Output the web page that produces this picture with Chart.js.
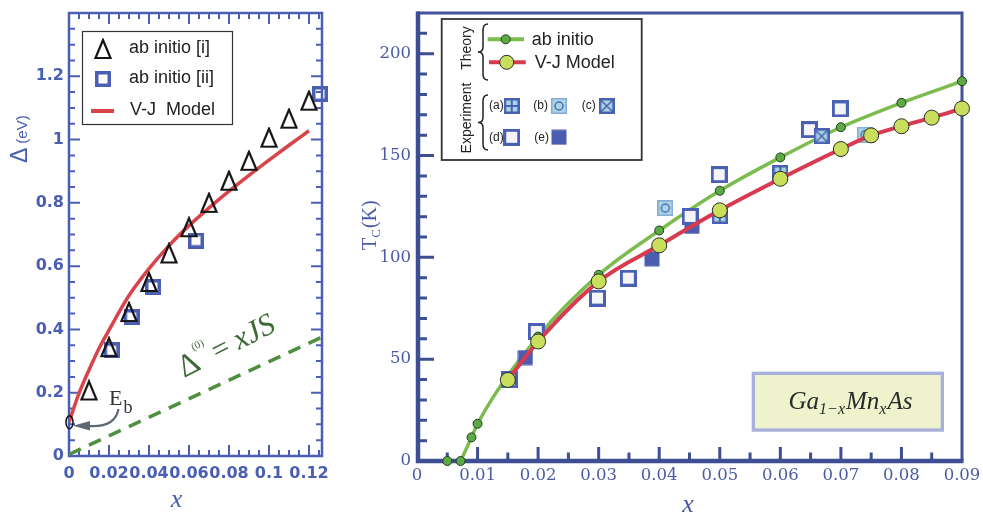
<!DOCTYPE html>
<html>
<head>
<meta charset="utf-8">
<script src="https://cdn.jsdelivr.net/npm/chart.js@4.4.0/dist/chart.umd.min.js"></script>
<style>
  body { margin: 0; background: #fff; width: 983px; height: 512px; overflow: hidden; position: relative; }
  #left { position: absolute; left: 0; top: 0; width: 345px; height: 512px; }
  #right { position: absolute; left: 345px; top: 0; width: 638px; height: 512px; }
</style>
</head>
<body>
<div id="left"><canvas id="c1" width="345" height="512"></canvas></div>
<div id="right"><canvas id="c2" width="638" height="512"></canvas></div>
<script>
// ---- panel izquierdo: Delta (eV) vs x ----
const deltaXTicks = [0, 0.02, 0.04, 0.06, 0.08, 0.1, 0.12];
const deltaYTicks = [0, 0.2, 0.4, 0.6, 0.8, 1, 1.2];
const abInitioIX = [0.01, 0.02, 0.03, 0.04, 0.05, 0.06, 0.07, 0.08, 0.09, 0.10, 0.11, 0.12];
const abInitioIY = [0.207, 0.344, 0.455, 0.55, 0.64, 0.723, 0.80, 0.87, 0.933, 1.006, 1.066, 1.123];
const abInitioIIX = [0.0213, 0.0313, 0.042, 0.0635, 0.1255];
const abInitioIIY = [0.334, 0.439, 0.534, 0.681, 1.144];
const vjDeltaX = [0, 0.005, 0.01, 0.015, 0.02, 0.03, 0.04, 0.05, 0.06, 0.07, 0.08, 0.09, 0.10, 0.11, 0.12];
const vjDeltaY = [0.107, 0.198, 0.272, 0.34, 0.398, 0.507, 0.592, 0.665, 0.728, 0.784, 0.837, 0.887, 0.935, 0.982, 1.028];
const xjsX = [0, 0.1265];
const xjsY = [0.005, 0.376];

// ---- panel derecho: Tc (K) vs x ----
const tcXTicks = [0, 0.01, 0.02, 0.03, 0.04, 0.05, 0.06, 0.07, 0.08, 0.09];
const tcYTicks = [0, 50, 100, 150, 200];
const abTcX = [0.005, 0.0072, 0.009, 0.010, 0.020, 0.030, 0.040, 0.050, 0.060, 0.070, 0.080, 0.090];
const abTcY = [0, 0, 11.6, 18.3, 61.1, 91.4, 113.2, 132.7, 149.1, 163.9, 175.9, 186.5];
const vjTcX = [0.015, 0.020, 0.030, 0.040, 0.050, 0.060, 0.070, 0.075, 0.080, 0.085, 0.090];
const vjTcY = [39.8, 58.7, 88.2, 105.9, 123.1, 138.6, 153.2, 159.9, 164.4, 168.6, 173.1];
const expAX = [0.050, 0.060];
const expAY = [120.4, 141.4];
const expBX = [0.041, 0.074];
const expBY = [124.2, 160.3];
const expCX = [0.0668];
const expCY = [159.5];
const expDX = [0.0152, 0.0197, 0.0298, 0.0349, 0.0451, 0.0499, 0.0648, 0.0699];
const expDY = [39.8, 63.6, 80, 89.8, 120.1, 140.6, 162.7, 172.9];
const expEX = [0.0179, 0.0388, 0.0454];
const expEY = [50.8, 99.3, 115.2];

const BLUE_L = '#4a5fb4';
const BLUE_R = '#3e4e93';
const LABEL_R = '#4b5ba3';
const GREEN_LINE = '#7cbc4e';
const GREEN_PT = '#5daa45';
const RED = '#d83a50';
const YELLOW = '#c9de5b';
const LIGHT = '#a9d6e0';

function pts(xs, ys) {
  return xs.map((x, i) => ({ x: x, y: ys[i] }));
}

// pequeños canvas usados como pointStyle
function mk(w, h, draw) {
  const c = document.createElement('canvas');
  c.width = w; c.height = h;
  draw(c.getContext('2d'));
  return c;
}
const triMark = mk(20, 22, g => {
  g.strokeStyle = '#151515'; g.lineWidth = 2.2;
  g.beginPath(); g.moveTo(10, 2); g.lineTo(2.5, 20); g.lineTo(17.5, 20); g.closePath(); g.stroke();
});
const sqMark = mk(16, 16, g => {
  g.strokeStyle = BLUE_L; g.lineWidth = 3.5; g.strokeRect(1.75, 1.75, 12.5, 12.5);
});
const markA = mk(16, 16, g => {
  g.fillStyle = LIGHT; g.fillRect(0, 0, 16, 16);
  g.strokeStyle = '#4a60b3'; g.lineWidth = 2.5; g.strokeRect(1.25, 1.25, 13.5, 13.5);
  g.lineWidth = 2; g.beginPath(); g.moveTo(8, 1); g.lineTo(8, 15); g.moveTo(1, 8); g.lineTo(15, 8); g.stroke();
});
const markB = mk(16, 16, g => {
  g.fillStyle = LIGHT; g.fillRect(0, 0, 16, 16);
  g.strokeStyle = '#86a9d6'; g.lineWidth = 1.5; g.strokeRect(0.75, 0.75, 14.5, 14.5);
  g.strokeStyle = '#4a6db5'; g.beginPath(); g.arc(8, 8, 4, 0, Math.PI * 2); g.stroke();
});
const markC = mk(16, 16, g => {
  g.fillStyle = LIGHT; g.fillRect(0, 0, 16, 16);
  g.strokeStyle = '#4a60b3'; g.lineWidth = 2.5; g.strokeRect(1.25, 1.25, 13.5, 13.5);
  g.lineWidth = 1.5; g.beginPath(); g.moveTo(2, 2); g.lineTo(14, 14); g.moveTo(14, 2); g.lineTo(2, 14); g.stroke();
});
const markD = mk(17, 17, g => {
  g.fillStyle = '#f5f5f9'; g.fillRect(0, 0, 17, 17);
  g.strokeStyle = '#4a60b4'; g.lineWidth = 3; g.strokeRect(1.5, 1.5, 14, 14);
});
const markE = mk(16, 16, g => {
  g.fillStyle = '#4a5db0'; g.fillRect(0.5, 0.5, 15, 15);
});

function imgSet(data, style) {
  return { data: data, pointStyle: style, pointRadius: 8, showLine: false, clip: false };
}
function lineSet(data, color, width, dash) {
  return {
    data: data, showLine: true, pointRadius: 0, borderColor: color, borderWidth: width,
    borderDash: dash || [], cubicInterpolationMode: 'monotone', fill: false
  };
}

function fixTicks(vals) {
  return s => { s.ticks = vals.map(v => ({ value: v })); };
}

// texto con subíndices/superíndices: piezas [texto, fuente, desplazamiento, separación]
function drawPieces(ctx, x, y, pieces) {
  let cx = x;
  pieces.forEach(p => {
    ctx.font = p[1];
    ctx.fillText(p[0], cx, y + (p[2] || 0));
    cx += ctx.measureText(p[0]).width + (p[3] || 0);
  });
  return cx - x;
}
function piecesWidth(ctx, pieces) {
  let w = 0;
  pieces.forEach(p => { ctx.font = p[1]; w += ctx.measureText(p[0]).width + (p[3] || 0); });
  return w;
}

function brace(ctx, x, y1, y2) {
  const m = (y1 + y2) / 2, w = 5;
  ctx.beginPath();
  ctx.moveTo(x + w, y1);
  ctx.quadraticCurveTo(x, y1, x, y1 + 6);
  ctx.lineTo(x, m - 5);
  ctx.quadraticCurveTo(x, m, x - w, m);
  ctx.quadraticCurveTo(x, m, x, m + 5);
  ctx.lineTo(x, y2 - 6);
  ctx.quadraticCurveTo(x, y2, x + w, y2);
  ctx.stroke();
}

// ---------- panel izquierdo ----------
const leftFrame = {
  id: 'leftFrame',
  beforeDatasetsDraw(chart) {
    const { ctx, chartArea: a, scales: { x, y } } = chart;
    ctx.save();
    ctx.strokeStyle = BLUE_L;
    ctx.lineWidth = 2.5;
    ctx.strokeRect(a.left, a.top, a.right - a.left, a.bottom - a.top);
    ctx.lineWidth = 2;
    ctx.beginPath();
    for (let i = 1; i * 0.005 < x.max; i++) {
      const px = x.getPixelForValue(i * 0.005);
      const len = i % 4 === 0 ? 11 : 6;
      ctx.moveTo(px, a.bottom); ctx.lineTo(px, a.bottom - len);
      ctx.moveTo(px, a.top); ctx.lineTo(px, a.top + len);
    }
    for (let i = 1; i * 0.05 < y.max; i++) {
      const py = y.getPixelForValue(i * 0.05);
      const len = i % 4 === 0 ? 11 : 6;
      ctx.moveTo(a.left, py); ctx.lineTo(a.left + len, py);
      ctx.moveTo(a.right, py); ctx.lineTo(a.right - len, py);
    }
    ctx.stroke();
    ctx.restore();
  },
  afterDraw(chart) {
    const { ctx, scales: { x, y } } = chart;
    ctx.save();
    // leyenda
    ctx.fillStyle = '#fff';
    ctx.fillRect(82.5, 31.5, 150, 93);
    ctx.strokeStyle = '#333'; ctx.lineWidth = 1.2;
    ctx.strokeRect(82.5, 31.5, 150, 93);
    ctx.drawImage(triMark, 103 - 10, 49 - 11);
    ctx.drawImage(sqMark, 103 - 8, 79 - 8);
    ctx.strokeStyle = '#d9434a'; ctx.lineWidth = 4;
    ctx.beginPath(); ctx.moveTo(91, 111); ctx.lineTo(114, 111); ctx.stroke();
    ctx.fillStyle = '#222'; ctx.font = '18px "Liberation Sans"'; ctx.textBaseline = 'middle';
    ctx.fillText('ab initio [i]', 129, 48);
    ctx.fillText('ab initio [ii]', 129, 78);
    ctx.fillText('V-J  Model', 130, 110);

    // E_b y flecha
    const ex = x.getPixelForValue(vjDeltaX[0]), ey = y.getPixelForValue(vjDeltaY[0]);
    ctx.strokeStyle = '#111'; ctx.lineWidth = 1.5;
    ctx.beginPath(); ctx.ellipse(ex + 0.5, ey, 3.5, 6.5, 0, 0, Math.PI * 2); ctx.stroke();
    ctx.strokeStyle = '#5c6874'; ctx.fillStyle = '#5c6874'; ctx.lineWidth = 2.2;
    ctx.beginPath(); ctx.moveTo(118.5, 409); ctx.quadraticCurveTo(115, 428, 88, 426); ctx.stroke();
    ctx.beginPath(); ctx.moveTo(73, 425.7); ctx.lineTo(90, 421); ctx.lineTo(90, 430.5); ctx.closePath(); ctx.fill();
    ctx.fillStyle = '#333'; ctx.textBaseline = 'alphabetic';
    drawPieces(ctx, 109, 405, [['E', '22px "Liberation Serif"', 0, 1], ['b', '18px "Liberation Serif"', 8]]);

    // Delta^(0) = xJS
    ctx.save();
    ctx.translate(184, 378);
    ctx.rotate(-27 * Math.PI / 180);
    ctx.fillStyle = '#3e6a36';
    drawPieces(ctx, 0, 0, [
      ['Δ', '32px "Liberation Serif"', 0, 0],
      ['(0)', '11px "Liberation Serif"', -20, 4],
      ['= ', '30px "Liberation Serif"', 0, 0],
      ['xJS', 'italic 31px "Liberation Serif"', 0]
    ]);
    ctx.restore();

    // títulos de ejes
    ctx.fillStyle = BLUE_L;
    ctx.save();
    ctx.translate(27, 163);
    ctx.rotate(-Math.PI / 2);
    drawPieces(ctx, 0, 0, [['Δ', '23px "Liberation Sans"', 0, 4], ['(eV)', '15px "Liberation Sans"', 0]]);
    ctx.restore();
    ctx.font = 'italic 26px "Liberation Serif"'; ctx.textAlign = 'center';
    ctx.fillText('x', 176.5, 507);
    ctx.restore();
  }
};

new Chart(document.getElementById('c1'), {
  type: 'scatter',
  data: {
    datasets: [
      imgSet(pts(abInitioIX, abInitioIY), triMark),
      imgSet(pts(abInitioIIX, abInitioIIY), sqMark),
      lineSet(pts(vjDeltaX, vjDeltaY), '#d9434a', 3.5),
      lineSet(pts(xjsX, xjsY), '#4f8f3f', 3.5, [13, 9])
    ]
  },
  options: {
    responsive: false,
    animation: false,
    events: [],
    layout: { padding: { left: 0, top: 13, right: 23, bottom: 0 } },
    plugins: { legend: { display: false }, tooltip: { enabled: false } },
    scales: {
      x: {
        type: 'linear', min: 0, max: 0.1265,
        grid: { display: false, drawTicks: false }, border: { display: false },
        afterBuildTicks: fixTicks(deltaXTicks),
        afterFit: s => { s.height = 56; s.paddingLeft = 0; s.paddingRight = 0; },
        ticks: {
          padding: 8, color: BLUE_L, maxRotation: 0, autoSkip: false,
          font: { family: 'DejaVu Sans', weight: 'bold', size: 16 },
          callback: v => String(v)
        }
      },
      y: {
        type: 'linear', min: 0, max: 1.4,
        grid: { display: false, drawTicks: false }, border: { display: false },
        afterBuildTicks: fixTicks(deltaYTicks),
        afterFit: s => { s.width = 69; s.paddingTop = 0; s.paddingBottom = 0; },
        ticks: {
          padding: 5, color: BLUE_L, autoSkip: false,
          font: { family: 'DejaVu Sans', weight: 'bold', size: 16 },
          callback: v => String(v)
        }
      }
    }
  },
  plugins: [leftFrame]
});

// ---------- panel derecho ----------
const rightFrame = {
  id: 'rightFrame',
  beforeDatasetsDraw(chart) {
    const { ctx, chartArea: a, scales: { x, y } } = chart;
    ctx.save();
    ctx.strokeStyle = '#45519a'; ctx.lineWidth = 3;
    ctx.beginPath();
    ctx.moveTo(a.left, a.top); ctx.lineTo(a.right, a.top); ctx.lineTo(a.right, a.bottom);
    ctx.stroke();
    ctx.strokeStyle = BLUE_R; ctx.lineWidth = 3;
    ctx.beginPath();
    for (let i = 1; i * 10 < y.max; i++) {
      const py = y.getPixelForValue(i * 10);
      const len = i % 5 === 0 ? 17 : 10;
      ctx.moveTo(a.left, py); ctx.lineTo(a.left + len, py);
    }
    for (let i = 1; i * 0.005 < x.max - 1e-9; i++) {
      const px = x.getPixelForValue(i * 0.005);
      const len = i % 2 === 0 ? 14 : 8.5;
      ctx.moveTo(px, a.bottom); ctx.lineTo(px, a.bottom - len);
    }
    ctx.stroke();
    ctx.lineWidth = 4.5;
    ctx.beginPath();
    ctx.moveTo(a.left + 1, a.top - 1.5); ctx.lineTo(a.left + 1, a.bottom); ctx.lineTo(a.right + 1.5, a.bottom);
    ctx.stroke();
    ctx.restore();
  },
  afterDraw(chart) {
    const { ctx } = chart;
    ctx.save();
    // leyenda
    const bx = 96.7, by = 19, bw = 200, bh = 141;
    ctx.fillStyle = '#fff'; ctx.fillRect(bx, by, bw, bh);
    ctx.strokeStyle = '#333'; ctx.lineWidth = 1.8; ctx.strokeRect(bx, by, bw, bh);
    ctx.fillStyle = '#222'; ctx.font = '14px "Liberation Sans"';
    ctx.textAlign = 'center'; ctx.textBaseline = 'middle';
    ctx.save(); ctx.translate(121.7, 48); ctx.rotate(-Math.PI / 2); ctx.fillText('Theory', 0, 0); ctx.restore();
    ctx.save(); ctx.translate(121.7, 118); ctx.rotate(-Math.PI / 2); ctx.fillText('Experiment', 0, 0); ctx.restore();
    ctx.strokeStyle = '#222'; ctx.lineWidth = 1.5;
    brace(ctx, 138, 24, 80);
    brace(ctx, 138, 95, 150);
    ctx.lineWidth = 4;
    ctx.strokeStyle = GREEN_LINE;
    ctx.beginPath(); ctx.moveTo(142.7, 39.3); ctx.lineTo(179, 39.3); ctx.stroke();
    ctx.strokeStyle = RED;
    ctx.beginPath(); ctx.moveTo(144, 62.3); ctx.lineTo(180.7, 62.3); ctx.stroke();
    ctx.lineWidth = 1;
    ctx.fillStyle = GREEN_PT; ctx.strokeStyle = '#1e3d1c';
    ctx.beginPath(); ctx.arc(160.7, 39.3, 4.5, 0, Math.PI * 2); ctx.fill(); ctx.stroke();
    ctx.fillStyle = YELLOW; ctx.strokeStyle = '#2b2b2b';
    ctx.beginPath(); ctx.arc(161.7, 62.3, 7, 0, Math.PI * 2); ctx.fill(); ctx.stroke();
    ctx.fillStyle = '#222'; ctx.textAlign = 'left';
    ctx.font = '18px "Liberation Sans"';
    ctx.fillText('ab initio', 186.7, 40);
    ctx.fillText('V-J Model', 189.7, 63);
    ctx.font = '12px "Liberation Sans"';
    ctx.fillText('(a)', 144, 106); ctx.drawImage(markA, 166.7 - 8, 106 - 8);
    ctx.fillText('(b)', 188.3, 106); ctx.drawImage(markB, 214 - 8, 106 - 8);
    ctx.fillText('(c)', 236.7, 106); ctx.drawImage(markC, 261.7 - 8, 106 - 8);
    ctx.fillText('(d)', 144, 137.3); ctx.drawImage(markD, 166.7 - 8.5, 137.3 - 8.5);
    ctx.fillText('(e)', 189.3, 137.3); ctx.drawImage(markE, 214 - 8, 137.3 - 8);

    // recuadro Ga1-xMnxAs
    ctx.fillStyle = '#eef3cd'; ctx.fillRect(406.7, 371.7, 192.3, 60);
    ctx.strokeStyle = '#aab0dd'; ctx.lineWidth = 3.3; ctx.strokeRect(408.35, 373.35, 189, 56.7);
    ctx.fillStyle = '#2a2a2a'; ctx.textBaseline = 'alphabetic';
    const ga = [
      ['Ga', 'italic 25px "Liberation Serif"', 0],
      ['1−x', 'italic 16px "Liberation Serif"', 5, 1],
      ['Mn', 'italic 25px "Liberation Serif"', 0],
      ['x', 'italic 16px "Liberation Serif"', 5, 1],
      ['As', 'italic 25px "Liberation Serif"', 0]
    ];
    drawPieces(ctx, 505.5 - piecesWidth(ctx, ga) / 2, 409.3, ga);

    // títulos de ejes
    ctx.fillStyle = '#4a5aa8';
    ctx.save();
    ctx.translate(31, 250);
    ctx.rotate(-Math.PI / 2);
    drawPieces(ctx, 0, 0, [['T', '20px "Liberation Serif"', 0, 0], ['C', '13px "Liberation Serif"', 4, 1], ['(K)', '20px "Liberation Serif"', 0]]);
    ctx.restore();
    ctx.font = 'italic 26px "Liberation Serif"'; ctx.textAlign = 'center';
    ctx.fillText('x', 688 - 345, 512);
    ctx.restore();
  }
};

new Chart(document.getElementById('c2'), {
  type: 'scatter',
  data: {
    datasets: [
      { data: pts(vjTcX, vjTcY), showLine: false, pointRadius: 7.5, pointBackgroundColor: YELLOW, pointBorderColor: '#2b2b2b', pointBorderWidth: 1, clip: false },
      { data: pts(abTcX, abTcY), showLine: false, pointRadius: 4.5, pointBackgroundColor: GREEN_PT, pointBorderColor: '#1e3d1c', pointBorderWidth: 1, clip: false },
      lineSet(pts(vjTcX, vjTcY), RED, 4),
      imgSet(pts(expAX, expAY), markA),
      imgSet(pts(expBX, expBY), markB),
      imgSet(pts(expCX, expCY), markC),
      imgSet(pts(expDX, expDY), markD),
      imgSet(pts(expEX, expEY), markE),
      lineSet(pts(abTcX, abTcY).slice(1), GREEN_LINE, 3.5)
    ]
  },
  options: {
    responsive: false,
    animation: false,
    events: [],
    layout: { padding: { left: 0, top: 13, right: 21, bottom: 0 } },
    plugins: { legend: { display: false }, tooltip: { enabled: false } },
    scales: {
      x: {
        type: 'linear', min: 0, max: 0.09,
        grid: { display: false, drawTicks: false }, border: { display: false },
        afterBuildTicks: fixTicks(tcXTicks),
        afterFit: s => { s.height = 51; s.paddingLeft = 0; s.paddingRight = 0; },
        ticks: {
          padding: 5, color: LABEL_R, maxRotation: 0, autoSkip: false,
          font: { family: 'DejaVu Serif', size: 16.5 },
          callback: v => String(v)
        }
      },
      y: {
        type: 'linear', min: 0, max: 220,
        grid: { display: false, drawTicks: false }, border: { display: false },
        afterBuildTicks: fixTicks(tcYTicks),
        afterFit: s => { s.width = 72; s.paddingTop = 0; s.paddingBottom = 0; },
        ticks: {
          padding: 6, color: LABEL_R, autoSkip: false,
          font: { family: 'DejaVu Serif', size: 16.5 },
          callback: v => String(v)
        }
      }
    }
  },
  plugins: [rightFrame]
});
</script>
</body>
</html>
